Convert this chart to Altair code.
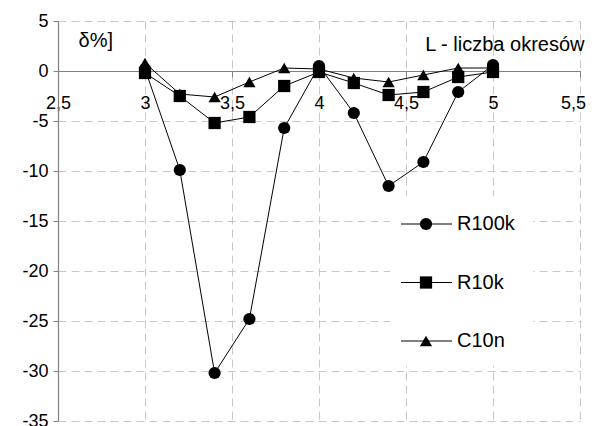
import altair as alt
import pandas as pd

x_vals = [3.0, 3.2, 3.4, 3.6, 3.8, 4.0, 4.2, 4.4, 4.6, 4.8, 5.0]
r100k = [0.2, -9.9, -30.2, -24.8, -5.7, 0.5, -4.2, -11.5, -9.1, -2.1, 0.6]
r10k = [-0.2, -2.5, -5.2, -4.6, -1.5, -0.1, -1.2, -2.4, -2.1, -0.6, -0.1]
c10n = [0.8, -2.3, -2.6, -1.1, 0.3, 0.2, -0.7, -1.1, -0.4, 0.3, 0.3]
series_names = ["R100k", "R10k", "C10n"]
shapes = ["circle", "square", "triangle-up"]
x_ticks = [2.5, 3, 3.5, 4, 4.5, 5, 5.5]
y_ticks = [-35, -30, -25, -20, -15, -10, -5, 0, 5]

rows = []
for name, vals in zip(series_names, [r100k, r10k, c10n]):
    for xv, yv in zip(x_vals, vals):
        rows.append({"L": xv, "v": yv, "series": name})
df = pd.DataFrame(rows)
leg_df = pd.DataFrame({"series": series_names})

FONT = "Liberation Sans"
W, H = 522, 400

x_enc = alt.X(
    "L:Q",
    scale=alt.Scale(domain=[2.5, 5.5], nice=False, zero=False),
    axis=alt.Axis(
        values=x_ticks, offset=-350, tickSize=6, labelPadding=17,
        labelFlush=False, labelOverlap=False, labelBound=False,
        labelOffset={"condition": {"test": "datum.value == 5.5", "value": -7}, "value": 0},
        labelExpr="replace(datum.value + '', '.', ',')",
        title="L - liczba okresów", titleX=526, titleY=-27,
        titleAlign="right", titleBaseline="middle",
    ),
)
y_enc = alt.Y(
    "v:Q",
    scale=alt.Scale(domain=[-35, 5], nice=False, zero=False),
    axis=alt.Axis(
        values=y_ticks, tickSize=5, labelPadding=5,
        labelFlush=False, labelOverlap=False,
        labelExpr="datum.value + ''",
        title="δ%]", titleAngle=0, titleX=20, titleY=19,
        titleAlign="left", titleBaseline="middle",
    ),
)
shape_scale = alt.Scale(domain=series_names, range=shapes)

base = alt.Chart(df)
lines = base.mark_line(color="black", strokeWidth=1).encode(
    x=x_enc, y=y_enc, detail="series:N"
)
points = base.mark_point(filled=True, color="black", size=150, opacity=1).encode(
    x=x_enc, y=y_enc, shape=alt.Shape("series:N", scale=shape_scale, legend=None)
)
main = alt.layer(lines, points)

bg = alt.Chart(pd.DataFrame({"a": [0]})).mark_rect(color="white").encode(
    x=alt.value(332), x2=alt.value(475), y=alt.value(175), y2=alt.value(345)
)
leg_y = alt.Y(
    "series:N",
    scale=alt.Scale(type="point", domain=series_names, range=[203, 320], padding=0),
    axis=None,
)
leg_rule = alt.Chart(leg_df).mark_rule(color="black", strokeWidth=1).encode(
    x=alt.value(343), x2=alt.value(394), y=leg_y
)
leg_pts = alt.Chart(leg_df).mark_point(filled=True, color="black", size=150, opacity=1).encode(
    x=alt.value(368), y=leg_y,
    shape=alt.Shape("series:N", scale=shape_scale, legend=None),
)
leg_txt = alt.Chart(leg_df).mark_text(
    align="left", baseline="middle", font=FONT, fontSize=20, color="black"
).encode(x=alt.value(399), y=leg_y, text="series:N")

chart = (
    alt.layer(bg, main, leg_rule, leg_pts, leg_txt)
    .resolve_scale(y="independent")
    .properties(
        width=W, height=H,
        padding={"left": 50, "top": 13, "right": 6, "bottom": 8},
        autosize=alt.AutoSizeParams(type="none"),
        background="white",
    )
    .configure_view(stroke=None)
    .configure_axis(
        labelFont=FONT, labelFontSize=18, labelColor="black",
        titleFont=FONT, titleFontSize=20, titleFontWeight="normal", titleColor="black",
        gridColor="#c8c8c8", gridDash=[8, 5], gridWidth=1,
        domainColor="#808080", domainWidth=1.2, tickColor="#808080", tickWidth=1,
    )
)

chart.save("out.html", embed_options={"renderer": "svg", "actions": False})
